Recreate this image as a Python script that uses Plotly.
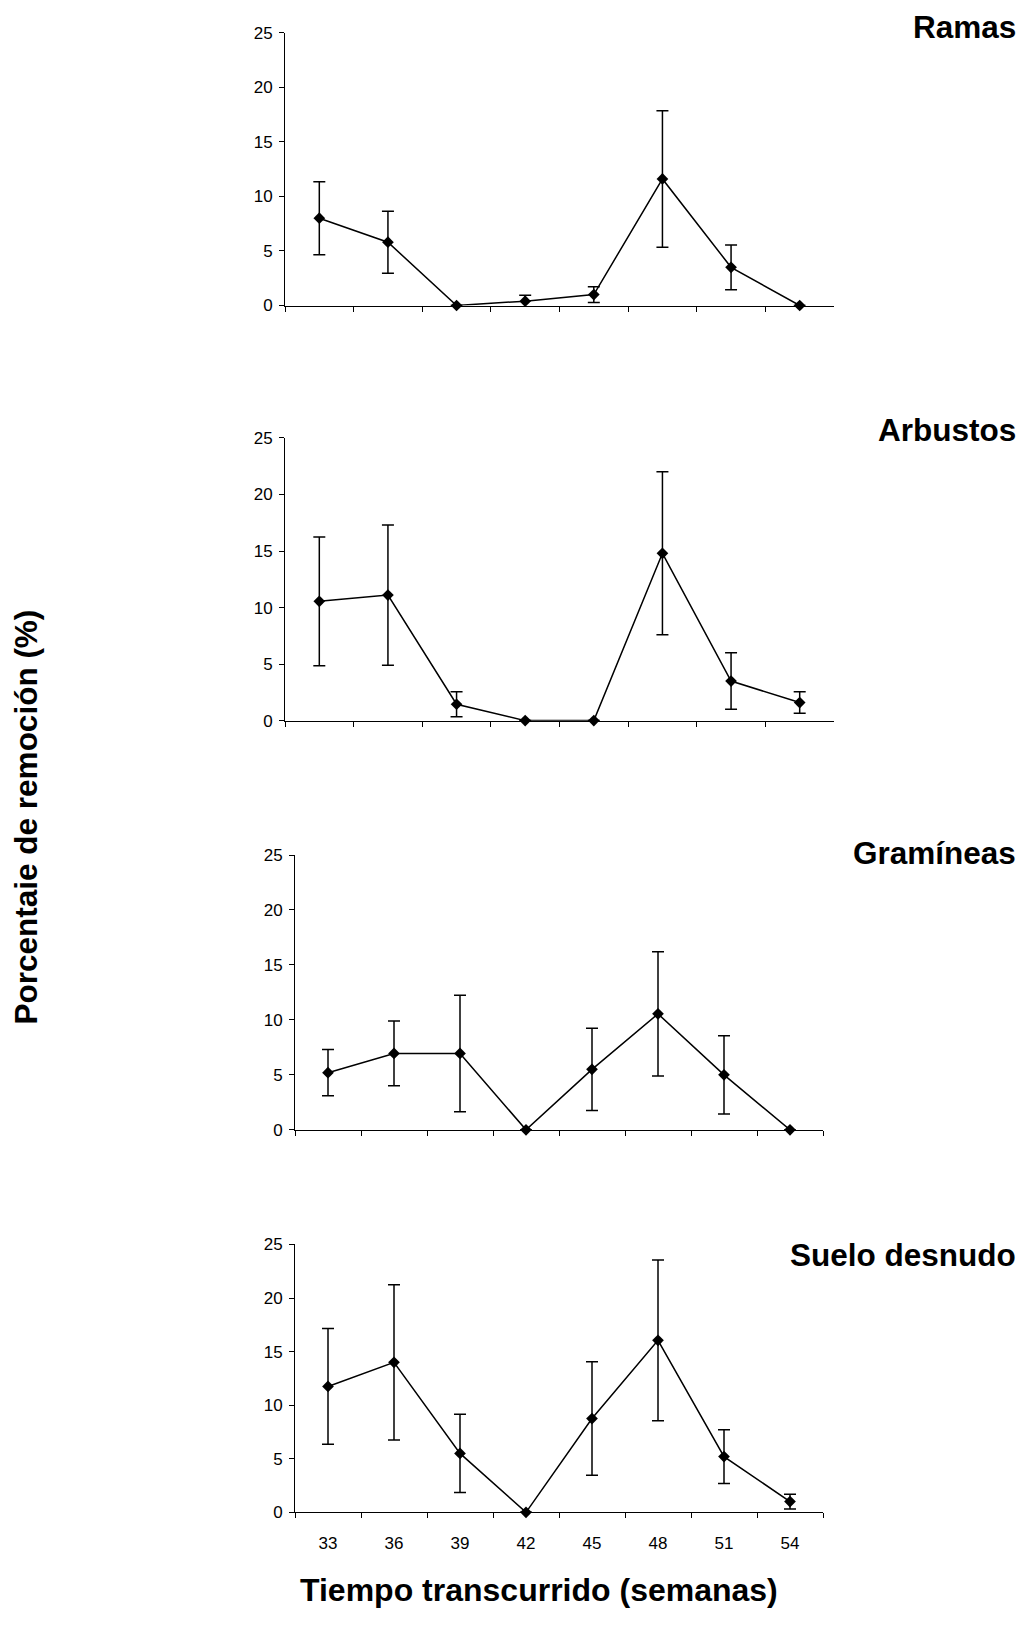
import plotly.graph_objects as go

# ---------------- data ----------------
weeks = ["33", "36", "39", "42", "45", "48", "51", "54"]
panel_titles = ["Ramas", "Arbustos", "Gramíneas", "Suelo desnudo"]

ramas = [8.0, 5.8, 0, 0.4, 1.0, 11.6, 3.5, 0]
ramas_err = [3.35, 2.85, 0, 0.55, 0.73, 6.25, 2.05, 0]

arbustos = [10.55, 11.1, 1.45, 0, 0, 14.8, 3.5, 1.6]
arbustos_err = [5.7, 6.2, 1.1, 0, 0, 7.2, 2.5, 0.95]

gramineas = [5.2, 6.95, 6.95, 0, 5.5, 10.55, 5.0, 0]
gramineas_err = [2.1, 2.95, 5.3, 0, 3.75, 5.65, 3.55, 0]

suelo = [11.75, 14.0, 5.5, 0, 8.75, 16.05, 5.2, 1.0]
suelo_err = [5.4, 7.25, 3.65, 0, 5.3, 7.5, 2.5, 0.68]

y_ticks = [0, 5, 10, 15, 20, 25]

y_title = "Porcentaie de remoción (%)"
x_title = "Tiempo transcurrido (semanas)"

series = [(ramas, ramas_err), (arbustos, arbustos_err),
          (gramineas, gramineas_err), (suelo, suelo_err)]

# ---------------- layout geometry (pixels) ----------------
W, H = 1025, 1634
boxes = [(285, 834, 24, 300), (285, 834, 434, 720),
         (295, 823, 856, 1134), (295, 823, 1250, 1521)]
title_y = [18, 426, 854, 1261]

FONT = "Arial, 'Liberation Sans', sans-serif"

fig = go.Figure()
layout = dict(
    width=W, height=H, autosize=False,
    margin=dict(l=0, r=0, t=0, b=0),
    paper_bgcolor="white", plot_bgcolor="white",
    showlegend=False,
    font=dict(family=FONT, color="black", size=17),
)
annotations = []

for i, ((vals, errs), (x0, x1, yt, yb)) in enumerate(zip(series, boxes)):
    n = "" if i == 0 else str(i + 1)
    fig.add_trace(go.Scatter(
        x=weeks, y=vals,
        xaxis="x" + n, yaxis="y" + n,
        mode="lines+markers",
        line=dict(color="black", width=1.5),
        marker=dict(symbol="diamond", size=9, color="black"),
        error_y=dict(type="data", array=[e if e > 0 else None for e in errs],
                     visible=True, color="black", thickness=1.5, width=6),
        cliponaxis=False,
    ))
    layout["xaxis" + n] = dict(
        domain=[x0 / W, x1 / W], anchor="y" + n,
        type="category", range=[-0.5, len(weeks) - 0.5],
        tickson="boundaries", ticks="outside", ticklen=5, tickwidth=1,
        tickcolor="black",
        showline=True, linecolor="black", linewidth=1,
        showgrid=False, zeroline=False,
        showticklabels=(i == 3),
        tickfont=dict(family=FONT, size=17, color="black"),
        ticklabelstandoff=15,
        fixedrange=True,
    )
    layout["yaxis" + n] = dict(
        domain=[1 - yb / H, 1 - yt / H], anchor="x" + n,
        range=[0, 25], tickvals=y_ticks, ticktext=[str(v) for v in y_ticks],
        ticks="outside", ticklen=5, tickwidth=1, tickcolor="black",
        showline=True, linecolor="black", linewidth=1,
        showgrid=False, zeroline=False,
        tickfont=dict(family=FONT, size=17, color="black"),
        ticklabelstandoff=3,
        fixedrange=True,
    )
    annotations.append(dict(
        text="<b>%s</b>" % panel_titles[i], xref="paper", yref="paper",
        x=1018 / W, y=1 - title_y[i] / H, xanchor="right", yanchor="middle",
        showarrow=False, font=dict(family=FONT, size=31.5, color="black"),
    ))

annotations.append(dict(
    text="<b>%s</b>" % y_title, xref="paper", yref="paper",
    x=26 / W, y=1 - 818 / H, xanchor="center", yanchor="middle",
    textangle=-90, showarrow=False,
    font=dict(family=FONT, size=31.5, color="black"),
))
annotations.append(dict(
    text="<b>%s</b>" % x_title, xref="paper", yref="paper",
    x=539 / W, y=1 - 1600 / H, xanchor="center", yanchor="middle",
    showarrow=False, font=dict(family=FONT, size=32, color="black"),
))
layout["annotations"] = annotations
fig.update_layout(**layout)

fig.write_html("out.html")
